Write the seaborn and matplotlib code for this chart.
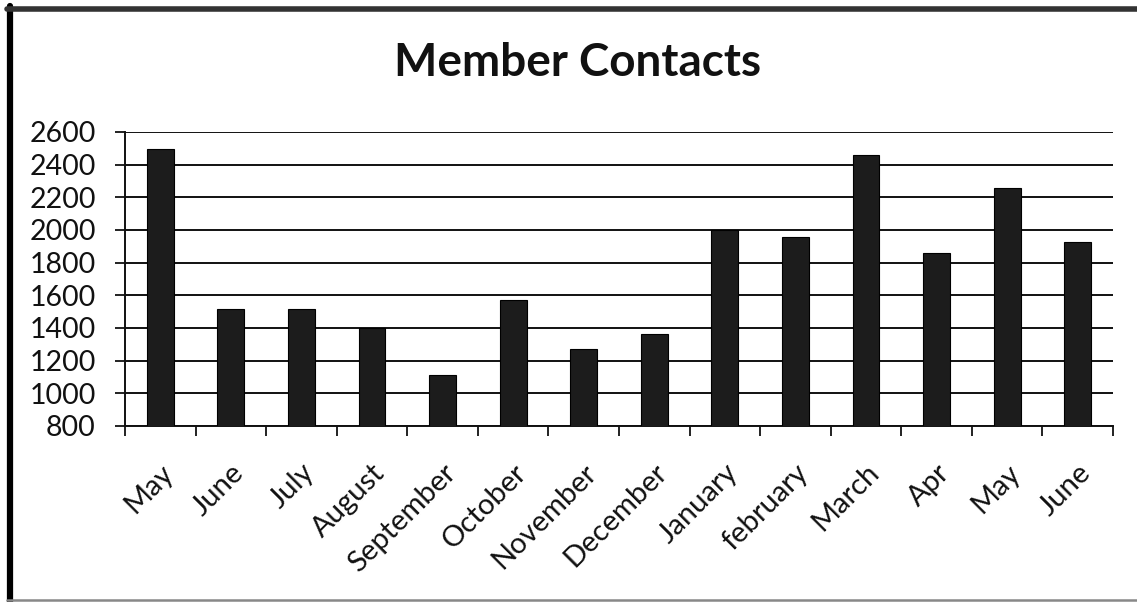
import numpy as np
import pandas as pd
import matplotlib
matplotlib.use("Agg")
import matplotlib.pyplot as plt
import seaborn as sns
from matplotlib.lines import Line2D

months = ["May", "June", "July", "August", "September", "October", "November",
          "December", "January", "february", "March", "Apr", "May", "June"]
contacts = [2495, 1515, 1515, 1400, 1115, 1570, 1272,
            1364, 2000, 1960, 2457, 1858, 2260, 1924]
y_ticks = [800, 1000, 1200, 1400, 1600, 1800, 2000, 2200, 2400, 2600]

sns.set_theme(style="white")
plt.rcParams["font.family"] = ["Lato", "DejaVu Sans"]

W, H = 1137, 602
fig = plt.figure(figsize=(W / 100, H / 100), dpi=100)
ax = fig.add_axes([125 / W, 1 - 426 / H, (1113 - 125) / W, (426 - 132) / H])

df = pd.DataFrame({"idx": np.arange(len(months)), "value": contacts})
sns.barplot(data=df, x="idx", y="value", color="#1c1c1c", saturation=1,
            width=0.38, ax=ax, zorder=3, edgecolor="#000000", linewidth=0.8)

ax.set_ylim(800, 2600)
ax.set_xlim(-0.5, len(months) - 0.5)
ax.set_yticks(y_ticks)
ax.set_yticklabels([str(v) for v in y_ticks], fontsize=20.5, color="#111111")
ax.yaxis.grid(True, color="#111111", linewidth=1.4, zorder=0)
ax.set_axisbelow(True)

ax.set_xticks(np.arange(-0.5, len(months), 1.0))
ax.set_xticklabels([""] * (len(months) + 1))
ax.set_xticks(np.arange(len(months)), minor=True)
ax.set_xticklabels(months, minor=True, rotation=45, ha="right", va="top",
                   rotation_mode="anchor", fontsize=21, color="#111111")
ax.tick_params(axis="x", which="major", direction="out", length=7, width=1.3,
               color="#111111", bottom=True)
ax.tick_params(axis="x", which="minor", length=0, pad=24, bottom=True)
ax.tick_params(axis="y", which="major", direction="out", length=7, width=1.3,
               color="#111111", left=True, pad=14)

for s in ["top", "right"]:
    ax.spines[s].set_visible(False)
for s in ["left", "bottom"]:
    ax.spines[s].set_visible(True)
    ax.spines[s].set_color("#111111")
    ax.spines[s].set_linewidth(1.4)

ax.set_xlabel("")
ax.set_ylabel("")

fig.text(578 / W, 1 - 63 / H, "Member Contacts", ha="center", va="center",
         fontsize=33, fontweight="bold", color="#111111")

# chart frame
fig.add_artist(Line2D([10 / W, 10 / W], [0, 1 - 6 / H], transform=fig.transFigure,
                      color="#000000", linewidth=4.5))
fig.add_artist(Line2D([7 / W, 1], [1 - 9 / H, 1 - 9 / H], transform=fig.transFigure,
                      color="#333333", linewidth=4))
fig.add_artist(Line2D([7 / W, 1], [2 / H, 2 / H], transform=fig.transFigure,
                      color="#888888", linewidth=1.8))

fig.savefig("out.png", dpi=100, facecolor="white")
